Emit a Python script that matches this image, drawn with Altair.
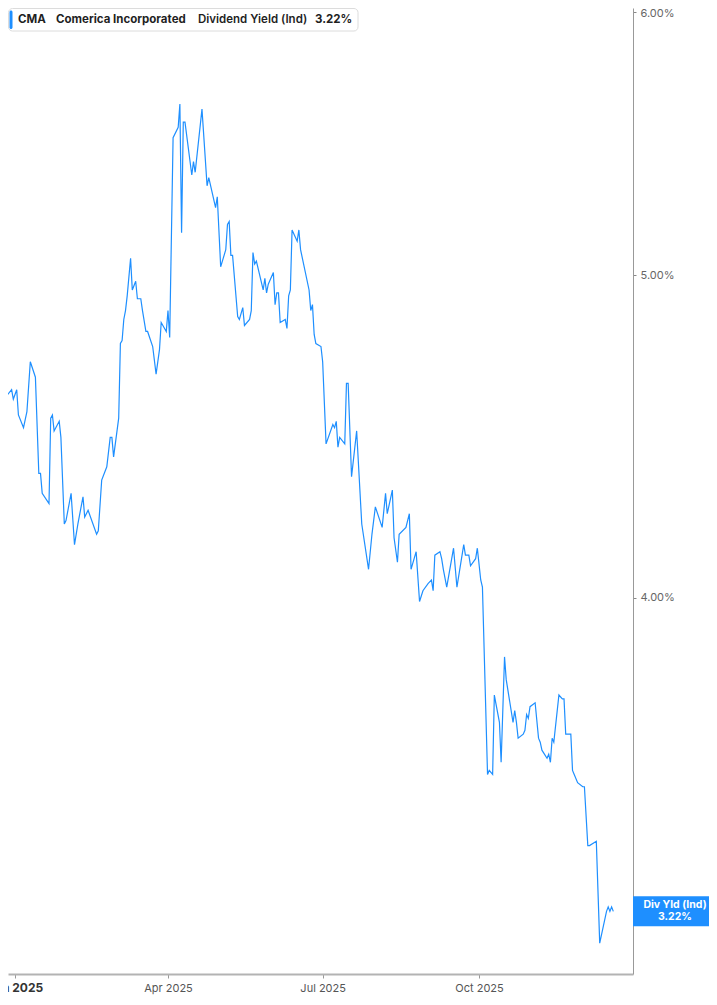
import altair as alt
import pandas as pd

# ---- data ----
dates = [
    "2024-12-23", "2024-12-24", "2024-12-26", "2024-12-27", "2024-12-30", "2024-12-31",
    "2025-01-02", "2025-01-03", "2025-01-06", "2025-01-08", "2025-01-10", "2025-01-13",
    "2025-01-15", "2025-01-16", "2025-01-17", "2025-01-21", "2025-01-22", "2025-01-23",
    "2025-01-24", "2025-01-27", "2025-01-28", "2025-01-30", "2025-01-31",
    "2025-02-03", "2025-02-05", "2025-02-07", "2025-02-10", "2025-02-11", "2025-02-13",
    "2025-02-18", "2025-02-19", "2025-02-21", "2025-02-24", "2025-02-26", "2025-02-27",
    "2025-02-28",
    "2025-03-03", "2025-03-04", "2025-03-05", "2025-03-06", "2025-03-07", "2025-03-08",
    "2025-03-10", "2025-03-11", "2025-03-13", "2025-03-14", "2025-03-16", "2025-03-17",
    "2025-03-19", "2025-03-20", "2025-03-23", "2025-03-25", "2025-03-27", "2025-03-28",
    "2025-03-31",
    "2025-04-01", "2025-04-02", "2025-04-04", "2025-04-07", "2025-04-08", "2025-04-09",
    "2025-04-10", "2025-04-11", "2025-04-15", "2025-04-16", "2025-04-17", "2025-04-21",
    "2025-04-24", "2025-04-25", "2025-04-29", "2025-04-30",
    "2025-05-02", "2025-05-05", "2025-05-06", "2025-05-07", "2025-05-08", "2025-05-09",
    "2025-05-12", "2025-05-13", "2025-05-15", "2025-05-16", "2025-05-19", "2025-05-20",
    "2025-05-21", "2025-05-22", "2025-05-23", "2025-05-27", "2025-05-28", "2025-05-29",
    "2025-05-30",
    "2025-06-02", "2025-06-03", "2025-06-04", "2025-06-05", "2025-06-06", "2025-06-09",
    "2025-06-10", "2025-06-11", "2025-06-12", "2025-06-13", "2025-06-16", "2025-06-17",
    "2025-06-18", "2025-06-23", "2025-06-24", "2025-06-25", "2025-06-26", "2025-06-27",
    "2025-06-30",
    "2025-07-01", "2025-07-03", "2025-07-07", "2025-07-08", "2025-07-09", "2025-07-10",
    "2025-07-11", "2025-07-14", "2025-07-15", "2025-07-16", "2025-07-18", "2025-07-21",
    "2025-07-24", "2025-07-28", "2025-07-30",
    "2025-08-01", "2025-08-05", "2025-08-07", "2025-08-08", "2025-08-11", "2025-08-12",
    "2025-08-14", "2025-08-15", "2025-08-19", "2025-08-21", "2025-08-22", "2025-08-25",
    "2025-08-27", "2025-08-29",
    "2025-09-01", "2025-09-03", "2025-09-04", "2025-09-05", "2025-09-08", "2025-09-09",
    "2025-09-10", "2025-09-12", "2025-09-16", "2025-09-18", "2025-09-22", "2025-09-23",
    "2025-09-25", "2025-09-26", "2025-09-29", "2025-09-30",
    "2025-10-02", "2025-10-03", "2025-10-06", "2025-10-07", "2025-10-09", "2025-10-10",
    "2025-10-13", "2025-10-14", "2025-10-16", "2025-10-17", "2025-10-21", "2025-10-22",
    "2025-10-23", "2025-10-24", "2025-10-27", "2025-10-28", "2025-10-29", "2025-10-30",
    "2025-10-31",
    "2025-11-03", "2025-11-05", "2025-11-06", "2025-11-07", "2025-11-10", "2025-11-11",
    "2025-11-12", "2025-11-13", "2025-11-14", "2025-11-17", "2025-11-19", "2025-11-20",
    "2025-11-21", "2025-11-24", "2025-11-25", "2025-11-26", "2025-11-28",
    "2025-12-01", "2025-12-02", "2025-12-04", "2025-12-05", "2025-12-09", "2025-12-11",
    "2025-12-15", "2025-12-16", "2025-12-17", "2025-12-18", "2025-12-19",
]

div_yield = [
    4.59, 4.55, 4.54, 4.60, 4.62, 4.59,
    4.62, 4.54, 4.50, 4.55, 4.71, 4.66, 4.36, 4.36, 4.30, 4.27, 4.53, 4.54, 4.49, 4.52,
    4.47, 4.21, 4.22,
    4.30, 4.15, 4.21, 4.29, 4.23, 4.25, 4.18, 4.19, 4.34, 4.38, 4.47, 4.47, 4.41,
    4.53, 4.77, 4.78, 4.85, 4.88, 4.93, 5.06, 4.95, 4.98, 4.92, 4.92, 4.88, 4.81, 4.81,
    4.76, 4.67, 4.75, 4.84, 4.81,
    4.88, 4.79, 5.50, 5.54, 5.63, 5.15, 5.56, 5.56, 5.36, 5.41, 5.37, 5.61, 5.32, 5.35,
    5.24, 5.28,
    5.03, 5.09, 5.18, 5.19, 5.07, 5.07, 4.86, 4.85, 4.89, 4.83, 4.85, 4.88, 5.08, 5.04,
    5.05, 4.95, 4.99, 4.94, 4.97,
    5.01, 4.90, 4.94, 4.94, 4.84, 4.85, 4.82, 4.93, 4.95, 5.16, 5.12, 5.16, 5.09, 4.95,
    4.88, 4.90, 4.80, 4.77, 4.76,
    4.71, 4.45, 4.51, 4.50, 4.52, 4.44, 4.47, 4.45, 4.64, 4.64, 4.35, 4.49, 4.21, 4.08,
    4.18,
    4.26, 4.20, 4.30, 4.24, 4.31, 4.17, 4.10, 4.18, 4.20, 4.24, 4.08, 4.13, 3.99, 4.02,
    4.04, 4.05, 4.02, 4.12, 4.13, 4.11, 4.08, 4.03, 4.14, 4.03, 4.15, 4.12, 4.12, 4.09,
    4.11, 4.14,
    4.05, 4.03, 3.54, 3.55, 3.54, 3.74, 3.67, 3.57, 3.84, 3.78, 3.67, 3.70, 3.67, 3.63,
    3.64, 3.65, 3.69, 3.68, 3.71,
    3.72, 3.63, 3.62, 3.60, 3.58, 3.59, 3.57, 3.63, 3.62, 3.74, 3.73, 3.73, 3.64, 3.64,
    3.55, 3.54, 3.52,
    3.51, 3.51, 3.37, 3.37, 3.38, 3.15, 3.22, 3.23, 3.22, 3.23, 3.22,
]

legend_texts = ["CMA", "Comerica Incorporated", "Dividend Yield (Ind)", "3.22%"]
end_tag_lines = ["Div Yld (Ind)", "3.22%"]
y_tick_values = [4, 5, 6]
x_tick_months = [1, 4, 7, 10]

# ---- chart ----
BLUE = "#1e8fff"
W, H = 625, 966
PAD_R, PAD_B = 76, 23
FONT = "Inter"

df = pd.DataFrame({"date": dates, "value": div_yield})
last_df = pd.DataFrame({"value": [div_yield[-1]]})

x_scale = alt.Scale(
    type="utc",
    domain=[
        alt.DateTime(year=2024, month=12, date=27, hours=21, utc=True),
        alt.DateTime(year=2025, month=12, date=30, hours=14, utc=True),
    ],
)
y_scale = alt.Scale(type="log", domain=[3.0834, 6.0166], nice=False, zero=False)

is_jan = "utcmonth(datum.value) == 0"
x_axis = alt.Axis(
    values=[alt.DateTime(year=2025, month=m, date=1, utc=True) for m in x_tick_months],
    labelExpr="utcFormat(datum.value, '%b %Y')",
    labelFont=FONT,
    labelFontSize={"condition": {"test": is_jan, "value": 12}, "value": 11},
    labelFontWeight={"condition": {"test": is_jan, "value": "bold"}, "value": "normal"},
    labelColor={"condition": {"test": is_jan, "value": "#333333"}, "value": "#555555"},
    labelPadding=4,
    labelFlush=False,
    labelBound=False,
    tickSize=4,
    tickColor="#999999",
    domainColor="#b3b3b3",
    domainWidth=2,
    grid=False,
    title=None,
)
y_axis = alt.Axis(
    orient="right",
    values=y_tick_values,
    labelExpr="format(datum.value, '.2f') + '%'",
    labelFont=FONT,
    labelFontSize=11,
    labelColor="#666666",
    labelPadding=4,
    labelOffset={"condition": {"test": "datum.value == 6", "value": 1.5}, "value": 0},
    labelFlush=False,
    labelBound=False,
    tickSize=3,
    tickColor="#888888",
    domainColor="#999999",
    domainWidth=1,
    grid=False,
    title=None,
)

line = alt.Chart(df).mark_line(color=BLUE, strokeWidth=1.2, clip=True).encode(
    x=alt.X("date:T", scale=x_scale, axis=x_axis),
    y=alt.Y("value:Q", scale=y_scale, axis=y_axis),
)

end_box = alt.Chart(last_df).mark_rect(color=BLUE, yOffset=-15, y2Offset=15).encode(
    x=alt.value(W),
    x2=alt.value(W + PAD_R),
    y=alt.Y("value:Q"),
    y2=alt.Y2("value"),
)
end_txt1 = alt.Chart(last_df).mark_text(
    font=FONT, fontSize=10.5, fontWeight="bold", color="white", dy=-6, align="center"
).encode(x=alt.value(W + 42), y=alt.Y("value:Q"), text=alt.value(end_tag_lines[0]))
end_txt2 = alt.Chart(last_df).mark_text(
    font=FONT, fontSize=10.5, fontWeight="bold", color="white", dy=6, align="center"
).encode(x=alt.value(W + 42), y=alt.Y("value:Q"), text=alt.value(end_tag_lines[1]))

legend_box = alt.Chart(last_df).mark_rect(
    fill="white", stroke="#dcdcdc", strokeWidth=1, cornerRadius=4
).encode(x=alt.value(0.5), x2=alt.value(350), y=alt.value(0.5), y2=alt.value(23))
legend_bar = alt.Chart(last_df).mark_rect(fill=BLUE, cornerRadius=1.5).encode(
    x=alt.value(1.5), x2=alt.value(4.5), y=alt.value(2.5), y2=alt.value(21)
)

legend_x = [10, 48, 190, 307]
legend_weight = ["bold", "bold", 600, "bold"]
legend_layers = []
for t, lx, fw in zip(legend_texts, legend_x, legend_weight):
    legend_layers.append(
        alt.Chart(last_df).mark_text(
            font=FONT, fontSize=11.5, fontWeight=fw, color="#1f1f1f",
            align="left", baseline="middle",
        ).encode(x=alt.value(lx), y=alt.value(11.5), text=alt.value(t))
    )

chart = alt.layer(
    line, end_box, end_txt1, end_txt2, legend_box, legend_bar, *legend_layers
).properties(
    width=W,
    height=H,
    autosize=alt.AutoSizeParams(type="none"),
    padding={"left": 0, "top": 0, "right": PAD_R, "bottom": PAD_B},
    background="white",
).configure_view(stroke=None)

chart.save("out.html", embed_options={"renderer": "svg", "actions": False})
